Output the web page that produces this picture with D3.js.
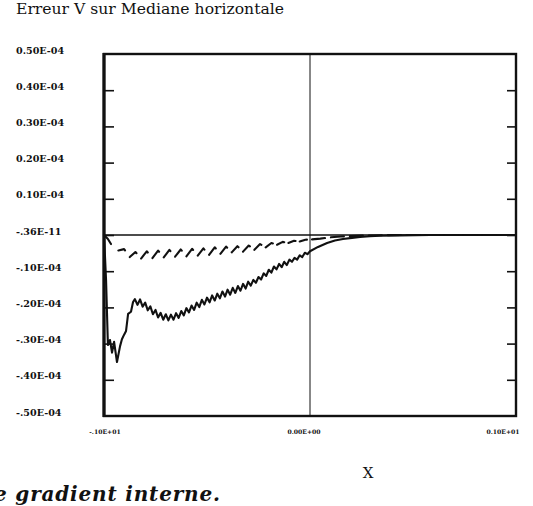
<!DOCTYPE html>
<html>
<head>
<meta charset="utf-8">
<script src="https://cdn.jsdelivr.net/npm/d3@7/dist/d3.min.js"></script>
<style>
  html, body { margin: 0; padding: 0; background: #fff; }
  svg { display: block; }
</style>
</head>
<body>
<svg id="chart" width="533" height="506"></svg>
<script>
// Values are in units of 1E-05 (the axis labels show them in E-04 notation).
const UNIT = 1e-5;

const titleText = "Erreur V sur Mediane horizontale";
const xAxisTitle = "X";
const captionText = "e gradient interne.";

const yTickValues = [5, 4, 3, 2, 1, 0, -1, -2, -3, -4, -5];
const yTickLabels = ["0.50E-04", "0.40E-04", "0.30E-04", "0.20E-04", "0.10E-04",
                     "-.36E-11", "-.10E-04", "-.20E-04", "-.30E-04", "-.40E-04", "-.50E-04"];
const xTickValues = [-1, 0, 1];
const xTickLabels = ["-.10E+01", "0.00E+00", "0.10E+01"];

// Solid curve: [x, V error]
const solidSeries = [
  [-1.000, 0.00], [-0.990, -1.24], [-0.981, -3.04], [-0.971, -2.90], [-0.961, -3.25],
  [-0.951, -2.95], [-0.937, -3.51], [-0.922, -3.07], [-0.913, -2.88], [-0.903, -2.76],
  [-0.893, -2.65], [-0.883, -2.18], [-0.869, -2.12], [-0.859, -1.85],
  [-0.8500, -1.77], [-0.8375, -1.93], [-0.8250, -1.78], [-0.8125, -1.98], [-0.8000, -1.87],
  [-0.7875, -2.08], [-0.7750, -1.97], [-0.7625, -2.19], [-0.7500, -2.07], [-0.7375, -2.28],
  [-0.7250, -2.15], [-0.7125, -2.34], [-0.7000, -2.19], [-0.6875, -2.36], [-0.6750, -2.20],
  [-0.6625, -2.34], [-0.6500, -2.16], [-0.6375, -2.29], [-0.6250, -2.10], [-0.6125, -2.22],
  [-0.6000, -2.02], [-0.5875, -2.14], [-0.5750, -1.95], [-0.5625, -2.07], [-0.5500, -1.87],
  [-0.5375, -1.99], [-0.5250, -1.79], [-0.5125, -1.92], [-0.5000, -1.73], [-0.4875, -1.86],
  [-0.4750, -1.67], [-0.4625, -1.81], [-0.4500, -1.62], [-0.4375, -1.75], [-0.4250, -1.56],
  [-0.4125, -1.70], [-0.4000, -1.51], [-0.3875, -1.65], [-0.3750, -1.46], [-0.3625, -1.60],
  [-0.3500, -1.41], [-0.3375, -1.54], [-0.3250, -1.35], [-0.3125, -1.48], [-0.3000, -1.29],
  [-0.2875, -1.40], [-0.2750, -1.24], [-0.2625, -1.32], [-0.2500, -1.16], [-0.2375, -1.23],
  [-0.2250, -1.06], [-0.2125, -1.13], [-0.2000, -0.96], [-0.1875, -1.04], [-0.1750, -0.87],
  [-0.1625, -0.95], [-0.1500, -0.80], [-0.1375, -0.89], [-0.1250, -0.74], [-0.1125, -0.83],
  [-0.1000, -0.68], [-0.0875, -0.74], [-0.0750, -0.63], [-0.0625, -0.68], [-0.0500, -0.56],
  [-0.0375, -0.61], [-0.0250, -0.49], [-0.0125, -0.53], [0.0000, -0.45],
  [0.039, -0.33], [0.083, -0.22], [0.121, -0.15], [0.160, -0.11], [0.204, -0.08],
  [0.243, -0.055], [0.291, -0.035], [0.340, -0.02], [0.437, -0.01], [0.583, 0.00], [1.000, 0.00]
];

// Dashed curve: [x, V error]
const dashedSeries = [
  [-1.000, 0.00], [-0.981, -0.11], [-0.966, -0.25],
  [-0.9300, -0.43], [-0.9025, -0.39], [-0.8750, -0.61], [-0.8475, -0.47], [-0.8200, -0.65],
  [-0.7925, -0.45], [-0.7650, -0.64], [-0.7375, -0.43], [-0.7100, -0.62], [-0.6825, -0.41],
  [-0.6550, -0.60], [-0.6275, -0.40], [-0.6000, -0.59], [-0.5725, -0.38], [-0.5450, -0.57],
  [-0.5175, -0.37], [-0.4900, -0.55], [-0.4625, -0.34], [-0.4350, -0.52], [-0.4075, -0.32],
  [-0.3800, -0.48], [-0.3525, -0.31], [-0.3250, -0.46], [-0.2975, -0.29], [-0.2700, -0.41],
  [-0.2425, -0.25], [-0.2150, -0.34], [-0.1875, -0.22], [-0.1600, -0.27], [-0.1325, -0.19],
  [-0.1050, -0.22], [-0.0775, -0.16], [-0.0500, -0.18], [-0.0225, -0.13],
  [0.010, -0.12], [0.050, -0.10], [0.100, -0.065], [0.150, -0.04], [0.200, -0.03],
  [0.270, -0.015], [0.350, -0.005], [0.450, 0.00], [1.000, 0.00]
];

const svg = d3.select("#chart");
const serif = "'DejaVu Serif', 'Liberation Serif', serif";

const x = d3.scaleLinear().domain([-1, 1]).range([104, 516]);
const y = d3.scaleLinear().domain([-5, 5]).range([416, 54]);

// Title
svg.append("text")
  .attr("x", 16).attr("y", 14)
  .attr("font-family", serif).attr("font-size", 14)
  .attr("textLength", 268).attr("lengthAdjust", "spacingAndGlyphs")
  .attr("fill", "#111")
  .text(titleText);

// Y tick labels, left aligned at the page margin
svg.append("g").selectAll("text")
  .data(yTickValues)
  .join("text")
  .attr("x", 16)
  .attr("y", d => y(d) - 0.5)
  .attr("font-family", serif).attr("font-weight", "bold").attr("font-size", 9.6)
  .attr("fill", "#111")
  .text((d, i) => yTickLabels[i]);

// X tick labels under the frame
svg.append("g").selectAll("text")
  .data(xTickValues)
  .join("text")
  .attr("x", (d, i) => x(d) + [1, -6, -13][i])
  .attr("y", 434)
  .attr("text-anchor", "middle")
  .attr("font-family", serif).attr("font-weight", "bold").attr("font-size", 6.1)
  .attr("fill", "#111")
  .text((d, i) => xTickLabels[i]);

// Inward tick marks on both vertical sides
const inner = yTickValues.slice(1, -1);
svg.append("g")
  .attr("transform", `translate(${x(-1)},0)`)
  .call(d3.axisRight(y).tickValues(inner).tickSize(10).tickFormat(""))
  .call(g => g.select(".domain").remove())
  .call(g => g.selectAll("line").attr("stroke", "#111").attr("stroke-width", 1.6));
svg.append("g")
  .attr("transform", `translate(${x(1)},0)`)
  .call(d3.axisLeft(y).tickValues(inner).tickSize(9).tickFormat(""))
  .call(g => g.select(".domain").remove())
  .call(g => g.selectAll("line").attr("stroke", "#111").attr("stroke-width", 1.6));

// Zero lines
svg.append("line")
  .attr("x1", x(-1)).attr("x2", x(1)).attr("y1", y(0)).attr("y2", y(0))
  .attr("stroke", "#111").attr("stroke-width", 1.4);
svg.append("line")
  .attr("x1", x(0)).attr("x2", x(0)).attr("y1", y(5)).attr("y2", y(-5))
  .attr("stroke", "#111").attr("stroke-width", 1);

const line = d3.line().x(d => x(d[0])).y(d => y(d[1]));

// Solid curve
svg.append("path")
  .datum(solidSeries)
  .attr("d", line)
  .attr("fill", "none").attr("stroke", "#111")
  .attr("stroke-width", 2.1).attr("stroke-linejoin", "round");

// Dashed curve: dashes follow the rising legs of the oscillation
const dp = dashedSeries.map(d => [x(d[0]), y(d[1])]);
const seg = i => Math.hypot(dp[i + 1][0] - dp[i][0], dp[i + 1][1] - dp[i][1]);
const dashes = [];
const extra = 1.6;
dashes.push(seg(0) + seg(1), seg(2));
const zStart = 3, zEnd = 36;
for (let i = zStart; i + 2 <= zEnd + 1; i += 2) {
  dashes.push(seg(i) + extra, Math.max(0.5, seg(i + 1) - extra));
}
let rest = 0;
for (let i = zEnd; i < dp.length - 1; i++) rest += seg(i);
for (let acc = 0; acc < rest + 40; acc += 19) dashes.push(13, 6);

svg.append("path")
  .datum(dashedSeries)
  .attr("d", line)
  .attr("fill", "none").attr("stroke", "#111")
  .attr("stroke-width", 2.1).attr("stroke-linejoin", "round").attr("stroke-linecap", "round")
  .attr("stroke-dasharray", dashes.map(v => v.toFixed(2)).join(" "));

// Frame
svg.append("rect")
  .attr("x", x(-1)).attr("y", y(5))
  .attr("width", x(1) - x(-1)).attr("height", y(-5) - y(5))
  .attr("fill", "none").attr("stroke", "#111").attr("stroke-width", 2.4);
svg.append("line")
  .attr("x1", x(-1)).attr("x2", x(-1)).attr("y1", y(5) - 1).attr("y2", y(-5) + 1)
  .attr("stroke", "#111").attr("stroke-width", 3.2);

// Axis name
svg.append("text")
  .attr("x", 368).attr("y", 478)
  .attr("text-anchor", "middle")
  .attr("font-family", serif).attr("font-size", 15)
  .attr("fill", "#111")
  .text(xAxisTitle);

// Caption line, running in from the left page edge
svg.append("text")
  .attr("x", -6).attr("y", 501)
  .attr("font-family", serif).attr("font-weight", "bold").attr("font-style", "italic")
  .attr("font-size", 20)
  .attr("textLength", 226).attr("lengthAdjust", "spacing")
  .attr("fill", "#111")
  .text(captionText);
</script>
</body>
</html>
